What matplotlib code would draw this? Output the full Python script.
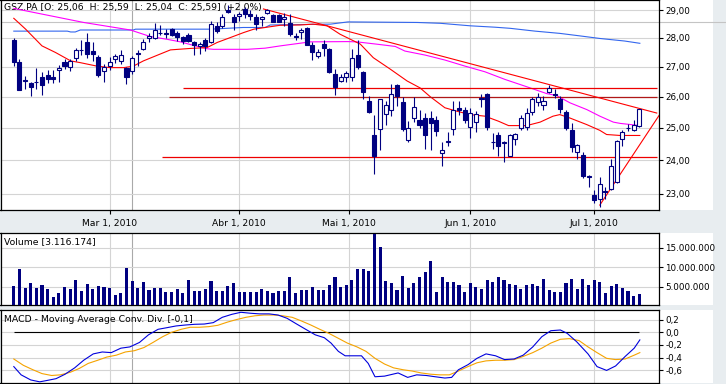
import numpy as np
import matplotlib
matplotlib.use("Agg")
import matplotlib.pyplot as plt
from matplotlib.ticker import FixedLocator, FuncFormatter, NullLocator
from matplotlib.patches import Rectangle

W, H = 726, 384
BG = "#e8edf0"
NAVY = "#000080"
GRID = "#d4d4d4"

# daily candles (trading-day index 0..111, Feb 4 -> Jul 13 2010)
opens = [27.92, 27.16, 26.55, 26.44, 26.50, 26.65, 26.73, 26.66, 26.89, 27.17,
         27.00, 27.31, 27.58, 27.84, 27.53, 27.34, 26.84, 27.03, 27.25, 27.20,
         26.95, 26.84, 27.47, 27.61, 27.98, 28.01, 28.18, 28.19, 28.31, 28.19,
         28.02, 28.10, 27.84, 27.70, 27.91, 27.84, 28.41, 28.41, 29.00, 28.74,
         28.80, 29.04, 28.84, 28.74, 28.66, 28.90, 28.82, 28.82, 28.66, 28.52,
         28.06, 28.21, 28.34, 27.74, 27.37, 27.78, 27.60, 26.77, 26.51, 26.64,
         26.67, 27.40, 26.83, 25.87, 24.77, 24.96, 25.44, 25.58, 26.38, 25.83,
         24.62, 25.31, 25.26, 25.31, 25.31, 25.26, 24.23, 24.56, 24.96, 25.64,
         25.58, 25.02, 25.18, 25.95, 26.10, 24.57, 24.76, 24.52, 24.12, 24.65,
         24.99, 25.01, 25.50, 25.82, 25.74, 26.17, 26.09, 25.94, 25.50, 24.92,
         24.26, 24.17, 23.52, 22.97, 22.85, 23.08, 23.14, 23.36, 24.65, 25.00,
         24.94, 25.06]
highs = [28.01, 27.25, 26.70, 26.50, 26.95, 26.83, 26.88, 26.90, 27.05, 27.28,
         27.27, 27.66, 27.93, 28.19, 27.84, 27.40, 27.08, 27.35, 27.43, 27.57,
         26.98, 27.37, 27.58, 27.95, 28.19, 28.52, 28.45, 28.31, 28.36, 28.25,
         28.07, 28.19, 27.89, 27.84, 27.98, 28.61, 28.57, 28.86, 29.20, 28.86,
         28.93, 29.11, 29.00, 28.84, 28.80, 29.05, 28.86, 28.86, 28.90, 28.86,
         28.19, 28.34, 28.37, 27.84, 27.60, 27.92, 27.63, 26.92, 26.74, 26.86,
         27.62, 27.93, 26.86, 26.02, 25.42, 25.94, 25.85, 26.41, 26.41, 26.00,
         25.21, 26.00, 25.58, 25.47, 25.53, 25.37, 24.56, 24.87, 25.85, 25.85,
         25.67, 25.63, 25.53, 26.10, 26.13, 24.84, 24.87, 24.60, 24.82, 24.84,
         25.42, 25.63, 25.99, 26.13, 26.02, 26.38, 26.24, 26.02, 25.58, 25.14,
         24.48, 24.26, 23.56, 23.12, 23.49, 23.20, 24.04, 24.63, 24.92, 25.12,
         25.26, 25.59]
lows = [27.03, 26.22, 26.24, 26.02, 26.27, 26.04, 26.45, 26.46, 26.49, 26.92,
        26.84, 27.19, 27.40, 27.31, 27.20, 26.65, 26.49, 26.90, 27.14, 27.09,
        26.43, 26.74, 27.03, 27.58, 27.84, 27.95, 28.10, 27.98, 28.05, 27.89,
        27.80, 27.84, 27.40, 27.43, 27.54, 27.81, 28.19, 28.34, 28.90, 28.28,
        28.61, 28.70, 28.63, 28.28, 28.43, 28.86, 28.55, 28.55, 28.43, 28.05,
        27.93, 27.95, 27.75, 27.23, 27.29, 27.37, 26.80, 26.07, 26.47, 26.47,
        26.51, 26.92, 25.94, 25.47, 23.58, 24.32, 25.10, 25.37, 25.71, 24.89,
        24.56, 25.18, 24.99, 24.35, 24.30, 24.74, 23.84, 24.43, 24.77, 25.42,
        25.15, 24.68, 24.87, 25.66, 24.94, 24.34, 24.12, 23.94, 24.12, 24.46,
        24.94, 24.92, 25.42, 25.71, 25.58, 26.13, 25.97, 25.47, 24.92, 24.26,
        24.04, 23.47, 23.20, 22.73, 22.63, 22.85, 23.12, 23.33, 24.43, 24.90,
        24.90, 25.04]
closes = [27.16, 26.22, 26.52, 26.33, 26.49, 26.39, 26.57, 26.57, 26.96, 27.03,
          27.19, 27.57, 27.56, 27.45, 27.45, 26.72, 26.99, 27.17, 27.38, 27.42,
          26.66, 27.31, 27.45, 27.87, 28.07, 28.28, 28.17, 28.13, 28.12, 28.03,
          27.89, 27.89, 27.74, 27.78, 27.72, 28.49, 28.25, 28.74, 28.93, 28.57,
          28.87, 28.84, 28.78, 28.49, 28.74, 29.00, 28.57, 28.57, 28.74, 28.15,
          28.04, 28.28, 27.76, 27.51, 27.52, 27.64, 26.83, 26.32, 26.64, 26.80,
          27.31, 27.00, 26.15, 25.49, 24.12, 25.91, 25.74, 26.10, 26.02, 24.96,
          24.99, 25.67, 25.10, 24.77, 25.16, 24.89, 24.30, 24.60, 25.58, 25.56,
          25.24, 25.47, 25.44, 25.92, 25.04, 24.55, 24.43, 24.56, 24.76, 24.81,
          25.31, 25.47, 25.94, 26.00, 25.85, 26.30, 26.06, 25.60, 24.99, 24.40,
          24.46, 23.52, 23.50, 22.83, 23.28, 23.06, 23.84, 24.60, 24.86, 24.98,
          25.10, 25.59]

# volume in millions of shares
volume_m = [5.18, 9.59, 4.66, 5.87, 4.66, 5.44, 4.40, 2.42, 3.28, 4.92,
            4.40, 6.65, 3.89, 5.70, 4.40, 5.18, 4.92, 4.66, 2.85, 3.28,
            9.84, 6.39, 4.66, 6.22, 4.15, 4.66, 4.66, 3.63, 3.63, 4.40,
            3.28, 6.65, 3.89, 3.89, 4.40, 6.39, 3.89, 3.89, 5.18, 5.96,
            3.63, 3.63, 3.63, 3.63, 4.40, 3.89, 3.37, 3.89, 3.89, 7.51,
            3.37, 4.15, 4.15, 4.92, 4.15, 4.15, 5.44, 7.34, 4.92, 5.35,
            6.74, 9.59, 9.59, 9.07, 18.57, 15.20, 6.48, 5.96, 4.15, 7.77,
            4.66, 5.96, 7.51, 8.81, 11.66, 3.63, 7.51, 6.22, 6.22, 5.44,
            3.63, 5.96, 4.92, 4.40, 6.74, 6.22, 7.51, 6.74, 5.70, 5.44,
            4.40, 5.44, 5.70, 5.18, 6.99, 4.15, 3.63, 3.63, 5.96, 6.99,
            4.40, 6.99, 5.44, 6.74, 6.22, 3.37, 5.18, 5.70, 4.66, 3.89,
            2.59, 3.116174]

month_pos = [17, 40, 59.5, 81, 103]
month_labels = ["Mar 1, 2010", "Abr 1, 2010", "Mai 1, 2010", "Jun 1, 2010", "Jul 1, 2010"]
marker_pos = 21

# moving averages (index, price)
ma_red_x = [0, 2.1, 5.0, 7.4, 10.1, 11.8, 14.8, 17.1, 19.5, 21.2, 23.0, 25.4, 27.8,
            31.3, 34.3, 36.1, 38.4, 40.8, 42.6, 44.6, 47.3, 50.8, 53.1, 55.6, 57.9,
            61.5, 63.8, 66.8, 69.8, 72.1, 73.9, 76.5, 78.6, 81.0, 83.6, 86.0, 87.8,
            91.0, 93.4, 95.7, 96.9, 98.7, 101.7, 104.0, 105.2, 107.6, 111.1]
ma_red_y = [28.70, 28.31, 27.72, 27.49, 27.20, 27.14, 27.02, 26.97, 26.97, 27.02,
            27.20, 27.39, 27.58, 27.63, 27.66, 27.84, 28.01, 28.19, 28.31, 28.37,
            28.45, 28.46, 28.49, 28.43, 28.13, 27.78, 27.31, 26.92, 26.52, 26.29,
            26.00, 25.64, 25.53, 25.42, 25.37, 25.21, 25.07, 25.07, 25.18, 25.37,
            25.42, 25.31, 25.10, 24.92, 24.79, 24.76, 24.76]
ma_mag_x = [0, 12.4, 20.7, 24.2, 27.2, 29.6, 32.2, 34.3, 35.4, 41.4, 44.6, 47.3,
            52.6, 59.3, 60.9, 64.4, 67.7, 69.4, 73.0, 76.5, 80.1, 83.6, 87.2, 91.0,
            94.6, 96.3, 98.7, 101.7, 104.0, 106.4, 107.6, 111.1]
ma_mag_y = [29.06, 28.55, 28.28, 28.05, 27.95, 27.86, 27.72, 27.62, 27.60, 27.60,
            27.64, 27.72, 27.86, 27.87, 27.86, 27.78, 27.70, 27.54, 27.40, 27.23,
            27.02, 26.83, 26.57, 26.33, 26.10, 26.04, 25.80, 25.58, 25.37, 25.18,
            25.14, 25.07]
ma_blue_x = [0, 9.5, 10.1, 10.9, 11.8, 21.2, 21.6, 34.9, 40.7, 44.6, 45.5, 56.2,
             59.3, 71.6, 75.7, 81.0, 85.4, 88.1, 92.5, 96.9, 100.5, 104.0, 108.4, 111.1]
ma_blue_y = [28.24, 28.24, 28.21, 28.21, 28.28, 28.28, 28.31, 28.31, 28.37, 28.37,
             28.46, 28.49, 28.57, 28.55, 28.52, 28.43, 28.38, 28.34, 28.24, 28.16,
             28.07, 27.98, 27.89, 27.81]

levels = [26.29, 26.00, 24.11]
level_start = [30.1, 27.6, 26.3]
level_end = 114.1
level_colors = ["#ee0000", "#b01818", "#ee0000"]
down_trend_x = [44.3, 114.1]
down_trend_y = [29.04, 25.47]
up_trend_x = [104.0, 114.5]
up_trend_y = [22.68, 25.39]

# MACD and signal line (index, value)
macd_x = [0.0, 1.3, 3.0, 4.6, 5.8, 7.5, 9.1, 10.8, 12.4, 14.1, 15.7, 17.3, 19.0, 20.6,
          22.3, 23.9, 25.6, 27.2, 28.8, 30.5, 32.1, 33.8, 35.4, 37.0, 38.7, 40.3, 42.0,
          43.6, 45.3, 46.9, 48.5, 50.2, 51.8, 53.5, 55.1, 56.3, 57.6, 58.8, 60.0, 61.7,
          62.9, 64.1, 65.8, 68.2, 69.9, 71.5, 73.2, 74.8, 76.5, 77.7, 78.9, 80.6, 82.2,
          83.8, 85.5, 87.1, 88.8, 90.4, 92.1, 93.7, 95.3, 97.0, 98.2, 99.9, 101.9, 103.5,
          105.2, 106.8, 108.5, 110.1, 111.1]
macd_y = [-0.54, -0.67, -0.75, -0.78, -0.76, -0.73, -0.66, -0.56, -0.44, -0.34, -0.31,
          -0.32, -0.25, -0.23, -0.16, -0.04, 0.047, 0.073, 0.10, 0.115, 0.126, 0.13,
          0.152, 0.236, 0.283, 0.315, 0.30, 0.29, 0.29, 0.272, 0.22, 0.13, 0.047,
          -0.04, -0.085, -0.17, -0.30, -0.37, -0.37, -0.37, -0.49, -0.70, -0.69, -0.64,
          -0.71, -0.67, -0.68, -0.70, -0.72, -0.71, -0.59, -0.51, -0.41, -0.34, -0.37,
          -0.43, -0.42, -0.36, -0.23, -0.07, 0.025, 0.036, -0.016, -0.15, -0.34, -0.54,
          -0.60, -0.53, -0.38, -0.25, -0.12]
signal_x = [0.0, 1.7, 3.4, 5.0, 6.7, 8.3, 10.0, 11.6, 13.2, 14.9, 16.5, 18.2, 19.8, 21.4,
            23.1, 24.7, 26.4, 28.0, 29.7, 31.3, 32.9, 34.6, 36.2, 37.9, 39.5, 41.2, 42.8,
            44.4, 46.1, 47.7, 49.4, 51.0, 52.7, 54.3, 55.9, 57.6, 59.2, 60.9, 62.5, 64.1,
            65.8, 67.4, 69.1, 70.7, 72.3, 74.0, 75.6, 77.3, 78.9, 80.6, 82.2, 83.8, 85.5,
            87.1, 88.8, 90.4, 92.1, 93.7, 95.3, 97.0, 98.6, 100.3, 101.9, 103.5, 105.2,
            106.8, 108.5, 110.1, 111.1]
signal_y = [-0.42, -0.52, -0.59, -0.65, -0.68, -0.67, -0.63, -0.57, -0.49, -0.44, -0.39,
            -0.36, -0.31, -0.29, -0.24, -0.16, -0.07, 0.0, 0.047, 0.079, 0.079, 0.089,
            0.11, 0.16, 0.20, 0.236, 0.26, 0.272, 0.272, 0.26, 0.236, 0.18, 0.115, 0.047,
            -0.016, -0.095, -0.17, -0.23, -0.30, -0.41, -0.50, -0.56, -0.59, -0.61, -0.64,
            -0.66, -0.67, -0.67, -0.61, -0.54, -0.48, -0.45, -0.44, -0.44, -0.43, -0.38,
            -0.32, -0.25, -0.17, -0.11, -0.10, -0.13, -0.23, -0.32, -0.41, -0.43, -0.42,
            -0.36, -0.32]

FS = 6.3
plt.rcParams['font.family'] = ['DejaVu Sans']
fig = plt.figure(figsize=(W / 100, H / 100), dpi=100, facecolor=BG)


def panel(top, bottom):
    ax = fig.add_axes([0.5 / W, 1 - bottom / H, 658.5 / W, (bottom - top) / H])
    fig.add_artist(Rectangle((659 / W, 1 - bottom / H), 54 / W, (bottom - top) / H,
                             transform=fig.transFigure, facecolor="white",
                             edgecolor="none", zorder=-5))
    ax.set_facecolor("white")
    for s in ax.spines.values():
        s.set_color("black")
        s.set_linewidth(0.9)
    ax.set_xlim(-2.36, 114.5)
    ax.yaxis.tick_right()
    ax.tick_params(axis="y", direction="out", length=3, width=0.8, pad=1.5,
                   labelsize=FS, colors="black")
    for p in month_pos:
        ax.axvline(p, color=GRID, lw=0.8, zorder=0)
    ax.axvline(marker_pos, color="#a9a9a9", lw=0.8, zorder=0)
    return ax


idx = np.arange(len(closes))
o = np.array(opens)
c = np.array(closes)

# ---- price panel
ax = panel(0, 210)
ax.set_yscale("log")
ax.set_ylim(22.54, 29.37)
pt = [23, 24, 25, 26, 27, 28, 29]
ax.yaxis.set_major_locator(FixedLocator(pt))
ax.yaxis.set_minor_locator(NullLocator())
ax.yaxis.set_major_formatter(FuncFormatter(lambda v, _: f"{v:.2f}".replace(".", ",")))
for p in pt:
    ax.axhline(p, color=GRID, lw=0.8, zorder=0)
ax.axhline(28.55, xmin=0, xmax=726 / 658.5, color="#c4c4c4", lw=0.8, zorder=0, clip_on=False)
ax.set_xticks(month_pos)
ax.set_xticklabels(month_labels)
ax.tick_params(axis="x", direction="out", length=3, width=0.8, pad=3.5, labelsize=FS + 0.3)

ax.plot(ma_blue_x, ma_blue_y, color="#3366ee", lw=0.8, zorder=2)
ax.plot(ma_mag_x, ma_mag_y, color="#ff00ff", lw=0.8, zorder=2)
ax.plot(ma_red_x, ma_red_y, color="#ff0000", lw=0.8, zorder=2)
for lv, st, col in zip(levels, level_start, level_colors):
    ax.hlines(lv, st, level_end, color=col, lw=0.9, zorder=2)
ax.plot(down_trend_x, down_trend_y, color="#ff0000", lw=0.8, zorder=2)
ax.plot(up_trend_x, up_trend_y, color="#ff0000", lw=0.8, zorder=2)

ax.vlines(idx, lows, highs, color=NAVY, lw=0.8, zorder=3)
body_lo = np.minimum(o, c)
body_h = np.maximum(np.abs(c - o), 0.004)
fills = np.where(c < o, NAVY, "white")
ax.bar(idx, body_h, bottom=body_lo, width=0.72, color=fills, edgecolor=NAVY,
       linewidth=0.8, zorder=4)
ax.text(3 / 658.5, 1 - 7.5 / 210, "GSZ.PA [O: 25,06  H: 25,59  L: 25,04  C: 25,59] (+2,0%)",
        transform=ax.transAxes, fontsize=FS + 0.4, va="center", ha="left", zorder=1)

# ---- volume panel
av = panel(232.7, 305)
vol = np.array(volume_m) * 1e6
av.set_ylim(0.26e6, 18.8e6)
vt = [5e6, 10e6, 15e6]
av.yaxis.set_major_locator(FixedLocator(vt))
av.yaxis.set_major_formatter(FuncFormatter(lambda v, _: f"{int(round(v)):,}".replace(",", ".")))
for v in vt:
    av.axhline(v, color=GRID, lw=0.8, zorder=0)
av.set_xticks([])
av.bar(idx, vol, width=0.55, color=NAVY, zorder=3)
av.text(3 / 658.5, 1 - 8.5 / 72.3, "Volume [3.116.174]", transform=av.transAxes,
        fontsize=FS + 0.4, va="center", ha="left", zorder=4)

# ---- MACD panel
am = panel(310, 383.3)
am.set_ylim(-0.803, 0.351)
mt = [-0.6, -0.4, -0.2, 0.0, 0.2]
am.yaxis.set_major_locator(FixedLocator(mt))
am.yaxis.set_major_formatter(FuncFormatter(lambda v, _: f"{v:.1f}".replace(".", ",").replace("-0,0", "0,0")))
for v in mt:
    am.axhline(v, color=GRID, lw=0.8, zorder=0)
am.set_xticks([])
am.hlines(0, 0, idx[-1], color="black", lw=0.8, zorder=2)
am.plot(signal_x, signal_y, color="#f5a300", lw=0.8, zorder=3)
am.plot(macd_x, macd_y, color="#0000dd", lw=0.8, zorder=3)
am.text(3 / 658.5, 1 - 9 / 73.3, "MACD - Moving Average Conv. Div. [-0,1]",
        transform=am.transAxes, fontsize=FS + 0.4, va="center", ha="left", zorder=4)

fig.savefig("out.png", dpi=100, facecolor=BG)
